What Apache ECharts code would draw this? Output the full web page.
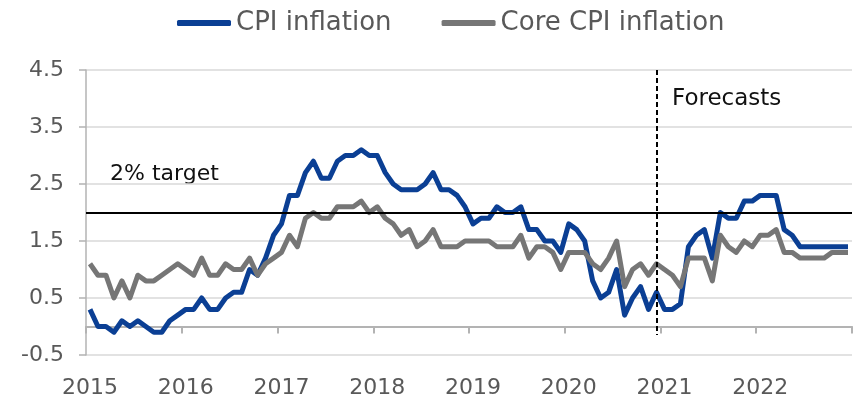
<!DOCTYPE html>
<html>
<head>
<meta charset="utf-8">
<script src="https://cdn.jsdelivr.net/npm/echarts@6/dist/echarts.min.js"></script>
<style>
  html, body { margin: 0; padding: 0; background: #fff; }
  #chart { width: 854px; height: 404px; }
</style>
</head>
<body>
<div id="chart"></div>
<script>
// monthly, Jan 2015 .. Dec 2022
var years = ['2015', '2016', '2017', '2018', '2019', '2020', '2021', '2022']
var months = []
years.forEach(function (y) {
  for (var m = 1; m <= 12; m++) months.push(y + '-' + (m < 10 ? '0' + m : m))
})

var cpi = [
  0.3, 0.0, 0.0, -0.1, 0.1, 0.0, 0.1, 0.0, -0.1, -0.1, 0.1, 0.2,
  0.3, 0.3, 0.5, 0.3, 0.3, 0.5, 0.6, 0.6, 1.0, 0.9, 1.2, 1.6,
  1.8, 2.3, 2.3, 2.7, 2.9, 2.6, 2.6, 2.9, 3.0, 3.0, 3.1, 3.0,
  3.0, 2.7, 2.5, 2.4, 2.4, 2.4, 2.5, 2.7, 2.4, 2.4, 2.3, 2.1,
  1.8, 1.9, 1.9, 2.1, 2.0, 2.0, 2.1, 1.7, 1.7, 1.5, 1.5, 1.3,
  1.8, 1.7, 1.5, 0.8, 0.5, 0.6, 1.0, 0.2, 0.5, 0.7, 0.3, 0.6,
  0.3, 0.3, 0.4, 1.4, 1.6, 1.7, 1.2, 2.0, 1.9, 1.9, 2.2, 2.2,
  2.3, 2.3, 2.3, 1.7, 1.6, 1.4, 1.4, 1.4, 1.4, 1.4, 1.4, 1.4
]
var coreCpi = [
  1.1, 0.9, 0.9, 0.5, 0.8, 0.5, 0.9, 0.8, 0.8, 0.9, 1.0, 1.1,
  1.0, 0.9, 1.2, 0.9, 0.9, 1.1, 1.0, 1.0, 1.2, 0.9, 1.1, 1.2,
  1.3, 1.6, 1.4, 1.9, 2.0, 1.9, 1.9, 2.1, 2.1, 2.1, 2.2, 2.0,
  2.1, 1.9, 1.8, 1.6, 1.7, 1.4, 1.5, 1.7, 1.4, 1.4, 1.4, 1.5,
  1.5, 1.5, 1.5, 1.4, 1.4, 1.4, 1.6, 1.2, 1.4, 1.4, 1.3, 1.0,
  1.3, 1.3, 1.3, 1.1, 1.0, 1.2, 1.5, 0.7, 1.0, 1.1, 0.9, 1.1,
  1.0, 0.9, 0.7, 1.2, 1.2, 1.2, 0.8, 1.6, 1.4, 1.3, 1.5, 1.4,
  1.6, 1.6, 1.7, 1.3, 1.3, 1.2, 1.2, 1.2, 1.2, 1.3, 1.3, 1.3
]
var target = 2
var forecastStart = '2020-12'
var yMin = -0.5, yMax = 4.5

var font = 'DejaVu Sans'
var grey = '#595959'
var axisGrey = '#b3b3b3'

var W = 854, H = 404
var plotBox = {left: 86, right: 2, top: 70, bottom: 49}
// second box ends where y = 0, so its x axis line + year ticks sit on zero
var plotH = H - plotBox.top - plotBox.bottom
var zeroY = plotBox.top + plotH * (yMax - 0) / (yMax - yMin)
var zeroBox = {left: 86, right: 2, top: 70, bottom: H - zeroY}

var chart = echarts.init(document.getElementById('chart'), null, {renderer: 'canvas'})

chart.setOption({
  animation: false,
  textStyle: {fontFamily: font},
  grid: [plotBox, zeroBox],
  legend: {
    data: ['CPI inflation', 'Core CPI inflation'],
    left: 172, top: 5,
    icon: 'roundRect',
    itemWidth: 54, itemHeight: 6, itemGap: 50,
    textStyle: {fontSize: 26, color: grey, fontFamily: font}
  },
  xAxis: [{
    // year labels under the plot
    gridIndex: 0,
    type: 'category',
    data: months,
    boundaryGap: true,
    axisLine: {show: false, onZero: false},
    axisTick: {show: false},
    axisLabel: {
      interval: 11, margin: 22, fontSize: 22, color: grey, fontFamily: font,
      formatter: function (v) { return v.slice(0, 4) }
    },
    splitLine: {show: false}
  }, {
    // axis line and year ticks on zero
    gridIndex: 1,
    type: 'category',
    data: months,
    boundaryGap: true,
    axisLine: {show: true, onZero: false, lineStyle: {color: axisGrey, width: 2}},
    axisTick: {show: true, interval: 11, length: 7, lineStyle: {color: axisGrey, width: 2}},
    axisLabel: {show: false},
    splitLine: {show: false}
  }],
  yAxis: [{
    gridIndex: 0,
    type: 'value',
    min: yMin, max: yMax, interval: 1,
    axisLine: {show: true, lineStyle: {color: axisGrey, width: 1.5}},
    axisTick: {show: true, length: 7, lineStyle: {color: axisGrey, width: 1.5}},
    axisLabel: {margin: 22, fontSize: 22, color: grey, fontFamily: font,
      formatter: function (v) { return v.toFixed(1) }},
    splitLine: {lineStyle: {color: '#d9d9d9', width: 1.5}}
  }, {
    gridIndex: 1,
    type: 'value',
    min: 0, max: yMax,
    show: false
  }],
  graphic: [
    {type: 'text', left: 110, top: 163, style: {text: '2% target', font: '22px "DejaVu Sans"', fill: '#111'}},
    {type: 'text', left: 672, top: 88, style: {text: 'Forecasts', font: '23px "DejaVu Sans"', fill: '#111'}}
  ],
  series: [{
    name: 'CPI inflation',
    type: 'line',
    xAxisIndex: 0, yAxisIndex: 0,
    data: cpi,
    symbol: 'none',
    lineStyle: {color: '#0b3f94', width: 5, join: 'round'},
    itemStyle: {color: '#0b3f94'},
    markLine: {
      silent: true,
      symbol: 'none',
      label: {show: false},
      data: [
        {yAxis: target, lineStyle: {color: '#000', width: 2, type: 'solid'}},
        [
          {coord: [forecastStart, yMax], lineStyle: {color: '#000', width: 2, type: [5, 3]}},
          {coord: [forecastStart, -0.15]}
        ]
      ]
    }
  }, {
    name: 'Core CPI inflation',
    type: 'line',
    xAxisIndex: 0, yAxisIndex: 0,
    data: coreCpi,
    symbol: 'none',
    lineStyle: {color: '#767676', width: 5, join: 'round'},
    itemStyle: {color: '#767676'}
  }]
})
</script>
</body>
</html>
